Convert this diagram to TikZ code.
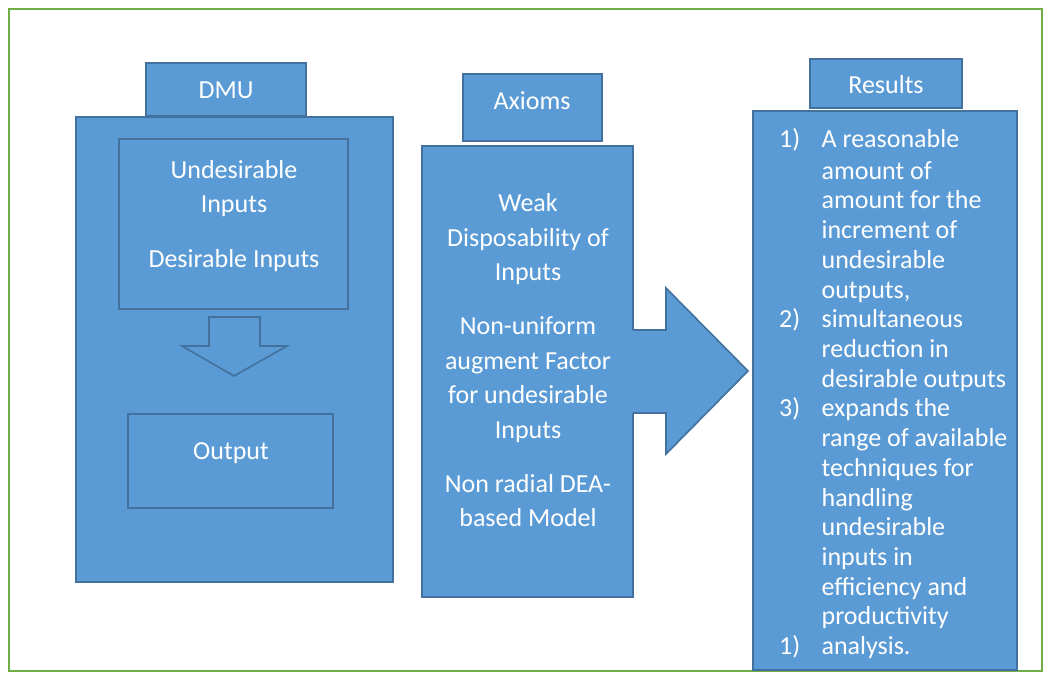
\documentclass[tikz,border=0pt]{standalone}
\usepackage{fontspec}
\setmainfont{Carlito}
\definecolor{boxfill}{HTML}{5B9BD5}
\definecolor{boxline}{HTML}{41719C}
\definecolor{framegreen}{HTML}{70AD47}
\tikzset{box/.style={draw=boxline, fill=boxfill, line width=1.6pt, inner sep=0pt},
         txt/.style={text=white, inner sep=0pt, align=center,
         font=\fontsize{26}{34.5}\selectfont}}

\begin{document}
\begin{tikzpicture}[x=1pt,y=-1pt]
  \useasboundingbox (0,0) rectangle (1052,682);
  \draw[framegreen, line width=2pt] (9,9) rectangle (1042,671);
  % DMU column
  \node[box, minimum width=160pt, minimum height=53pt] (dmu tab) at (226,89.5) {};
  \node[box, minimum width=317pt, minimum height=465pt] (dmu box) at (234.5,349.5) {};
  \node[box, minimum width=229pt, minimum height=170pt] (inputs box) at (233.5,224) {};
  \node[box, minimum width=205pt, minimum height=94pt] (output box) at (230.5,461) {};
  \filldraw[draw=boxline, fill=boxfill, line width=1.6pt]
    (209,317) -- (260,317) -- (260,346) -- (287,346) -- (234,376) -- (182,346) -- (209,346) -- cycle;
  \node[txt, anchor=base] (dmu label) at (226,98.3) {DMU};
  % base of a multi-line node = baseline of its last line
  \node[txt, anchor=base] (inputs label) at (234,267.3) {Undesirable\\Inputs\\[20pt]Desirable Inputs};
  \node[txt, anchor=base] (output label) at (231,459) {Output};
  % Axioms column
  \node[box, minimum width=139pt, minimum height=67pt] (axioms tab) at (532.5,107.5) {};
  \node[box, minimum width=211pt, minimum height=451pt] (axioms box) at (527.5,371.5) {};
  \fill[boxfill] (625,330) -- (666,330) -- (666,288) -- (748,371) -- (666,454) -- (666,413) -- (625,413) -- cycle;
  \draw[boxline, line width=1.6pt, line join=miter]
    (633,330) -- (666,330) -- (666,288) -- (748,371) -- (666,454) -- (666,413) -- (633,413);
  \node[txt, anchor=base] (axioms label) at (532,109.3) {Axioms};
  \node[txt, anchor=base] (axioms list) at (528,526.7)
    {Weak\\Disposability of\\Inputs\\[19.5pt]Non-uniform\\augment Factor\\for undesirable\\Inputs\\[19.5pt]Non radial DEA-\\based Model};
  % Results column
  \node[box, minimum width=152pt, minimum height=49pt] (results tab) at (886,83.5) {};
  \node[box, minimum width=264pt, minimum height=559pt] (results box) at (885,390.5) {};
  \node[txt, anchor=base] (results label) at (886,94) {Results};
  \node[txt, anchor=base west, align=left, font=\fontsize{26}{29.7}\selectfont] (results list) at (779,147.3)
    {\begin{tabular}[t]{@{}p{42.4pt}@{}l@{}}
      1) & A reasonable\\[2.3pt]
         & amount of\\
         & amount for the\\
         & increment of\\
         & undesirable\\
         & outputs,\\
      2) & simultaneous\\
         & reduction in\\
         & desirable outputs\\
      3) & expands the\\
         & range of available\\
         & techniques for\\
         & handling\\
         & undesirable\\
         & inputs in\\
         & efficiency and\\
         & productivity\\
      1) & analysis.
    \end{tabular}};
\end{tikzpicture}
\end{document}
